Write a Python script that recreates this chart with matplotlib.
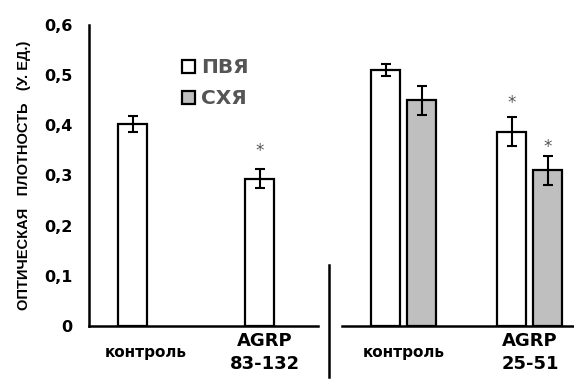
import numpy as np
import matplotlib.pyplot as plt
import matplotlib.transforms as mtransforms
from matplotlib.lines import Line2D

plt.rcParams['font.family'] = ['DejaVu Sans']

# left panel: AGRP 83-132
left_labels = ['контроль', 'AGRP\n83-132']
left_vals = [0.403, 0.293]
left_err = [0.016, 0.019]
left_star = [False, True]

# right panel: AGRP 25-51
right_labels = ['контроль', 'AGRP\n25-51']
pvya_vals = [0.510, 0.387]
pvya_err = [0.012, 0.029]
pvya_star = [False, True]
shya_vals = [0.450, 0.310]
shya_err = [0.029, 0.029]
shya_star = [False, True]

yticks = [0, 0.1, 0.2, 0.3, 0.4, 0.5, 0.6]
ytick_labels = ['0', '0,1', '0,2', '0,3', '0,4', '0,5', '0,6']

fig = plt.figure(figsize=(5.74, 3.83), dpi=100)
ax1 = fig.add_axes([0.155, 0.149, 0.399, 0.786])
ax2 = fig.add_axes([0.596, 0.149, 0.404, 0.786])

lw = 1.6
ekw = dict(ecolor='black', elinewidth=1.5, capsize=3.5, capthick=1.5)
star_col = '#555555'

x1 = np.arange(len(left_vals))
ax1.bar(x1, left_vals, 0.23, yerr=left_err, color='white', edgecolor='black',
        linewidth=lw, error_kw=ekw)
for xi, v, e, s in zip(x1, left_vals, left_err, left_star):
    if s:
        ax1.annotate('*', (xi, v + e), xytext=(0, 7), textcoords='offset points',
                     ha='center', va='bottom', fontsize=12, color=star_col)

x2 = np.arange(len(pvya_vals))
off = 0.143
ax2.bar(x2 - off, pvya_vals, 0.23, yerr=pvya_err, color='white', edgecolor='black',
        linewidth=lw, error_kw=ekw, label='ПВЯ')
ax2.bar(x2 + off, shya_vals, 0.23, yerr=shya_err, color='#bfbfbf', edgecolor='black',
        linewidth=lw, error_kw=ekw, label='СХЯ')
for vals, errs, stars, dx, dy in [(pvya_vals, pvya_err, pvya_star, -off, 4),
                                  (shya_vals, shya_err, shya_star, off, 0)]:
    for xi, v, e, s in zip(x2, vals, errs, stars):
        if s:
            ax2.annotate('*', (xi + dx, v + e), xytext=(0, dy), textcoords='offset points',
                         ha='center', va='bottom', fontsize=12, color=star_col)

ax1.set_xlim(-0.343, 1.46)
ax2.set_xlim(-0.49, 1.35)
for ax in (ax1, ax2):
    ax.set_ylim(0, 0.6)
    ax.spines['top'].set_visible(False)
    ax.spines['right'].set_visible(False)
    ax.spines['bottom'].set_linewidth(1.8)
    ax.spines['left'].set_linewidth(1.8)
    ax.tick_params(length=0)

ax1.set_yticks(yticks)
ax1.set_yticklabels(ytick_labels, fontsize=11.5, fontweight='bold')
ax1.tick_params(axis='y', pad=12)
ax1.set_ylabel('ОПТИЧЕСКАЯ   ПЛОТНОСТЬ   (У. ЕД.)', fontsize=10.5, fontweight='bold',
               family='Liberation Sans', labelpad=9)

ax2.spines['left'].set_visible(False)
ax2.set_yticks([])

for ax, x, labels in [(ax1, x1, left_labels), (ax2, x2, right_labels)]:
    ax.set_xticks(x)
    ax.set_xticklabels(labels, fontweight='bold', linespacing=1.4, va='center')
    ax.tick_params(axis='x', pad=19)
    lab = ax.get_xticklabels()
    lab[0].set_fontsize(11)
    lab[1].set_fontsize(13)

# left-panel labels sit a little right of the bars in the original
for lab, dx in zip(ax1.get_xticklabels(), [13, 5]):
    lab.set_transform(lab.get_transform() +
                      mtransforms.ScaledTranslation(dx / 100, 0, fig.dpi_scale_trans))

leg = fig.legend(loc='upper left', bbox_to_anchor=(0.285, 0.895), frameon=False,
                 handlelength=0.65, handleheight=0.6, handletextpad=0.3,
                 labelspacing=0.6, prop={'size': 14.5, 'weight': 'bold'})
for t in leg.get_texts():
    t.set_color('#555555')

fig.add_artist(Line2D([0.573, 0.573], [0.016, 0.308], color='black', linewidth=1.8))

fig.savefig('out.png', dpi=100)
